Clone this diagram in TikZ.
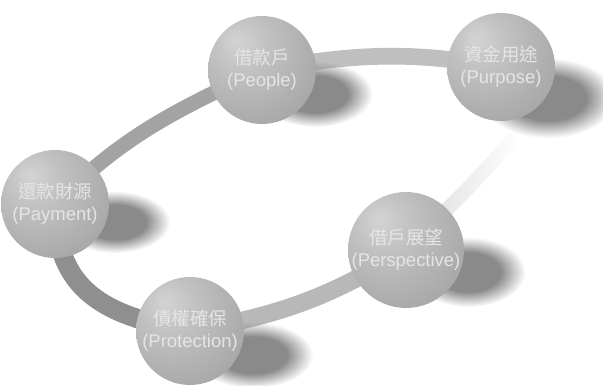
\documentclass[tikz,border=0pt]{standalone}
\usepackage{fontspec}
\setmainfont{Liberation Sans}
\newfontfamily\cjkfont{Noto Sans CJK TC}
\usetikzlibrary{fadings,backgrounds}

\pgfdeclareradialshading{ballgray}{\pgfpoint{-12bp}{14bp}}{%
  color(0bp)=(black!17); color(12bp)=(black!24); color(34bp)=(black!34);
  color(52bp)=(black!42); color(70bp)=(black!48)}
\pgfdeclareradialshading{softedgeshading}{\pgfpointorigin}{%
  color(0bp)=(pgftransparent!0); color(14bp)=(pgftransparent!0);
  color(25bp)=(pgftransparent!100); color(50bp)=(pgftransparent!100)}
\pgfdeclarefading{softedge}{\pgfuseshading{softedgeshading}}

\tikzset{
  sphere/.style={circle, minimum size=2.16cm, inner sep=0pt, shading=ballgray,
    text=white!90!black, align=center, font=\fontsize{10.5}{12.5}\selectfont},
  dropshadow/.style={black!46, path fading=softedge},
}

\begin{document}
\begin{tikzpicture}
    \useasboundingbox (0,0) rectangle (12.06,7.72);

    \node[sphere] (people)      at (5.24,6.32) {{\cjkfont 借款戶}\\(People)};
    \node[sphere] (purpose)     at (10.02,6.38) {{\cjkfont 資金用途}\\(Purpose)};
    \node[sphere] (payment)     at (1.10,3.64) {{\cjkfont 還款財源}\\(Payment)};
    \node[sphere] (protection)  at (3.80,1.10) {{\cjkfont 債權確保}\\(Protection)};
    \node[sphere] (perspective) at (8.12,2.72) {{\cjkfont 借戶展望}\\(Perspective)};
    \coordinate (fadeend) at (10.30,5.00);

    \begin{scope}[on background layer]
        % the ring, darker in front
        \draw[black!44, line width=11pt] (payment.center) to[out=-90, in=170, looseness=1.2] (protection.center);
        \draw[black!28, line width=10pt] (protection.center) to[out=10, in=212] (perspective.center);
        \draw[black!15, line width=8pt, path fading=east] (perspective.center) to[out=45, in=230] (fadeend);
        \draw[black!25, line width=9.5pt] (purpose.center) to[out=170, in=10] (people.center);
        \draw[black!36, line width=8.5pt] (people.center) to[out=205, in=45] (payment.center);

        \foreach \x/\y/\a/\b in {6.30/5.84/1.15/0.66, 10.96/5.76/1.35/0.8, 2.30/3.28/1.1/0.62,
                                 5.06/0.62/1.2/0.66, 9.36/2.28/1.15/0.7} {
            \fill[dropshadow] (\x,\y) ellipse ({\a} and {\b});
        }
    \end{scope}
\end{tikzpicture}
\end{document}
